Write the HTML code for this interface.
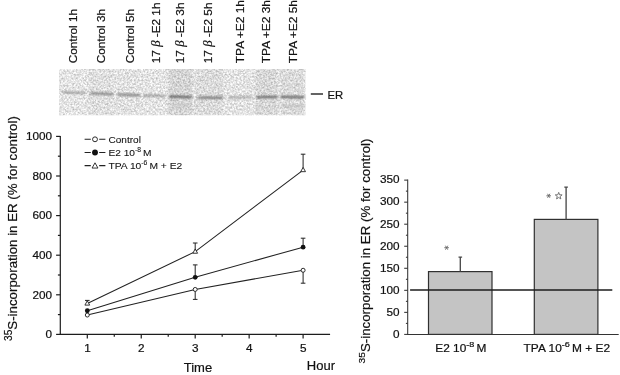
<!DOCTYPE html>
<html><head><meta charset="utf-8"><title>Figure</title>
<style>html,body{margin:0;padding:0;background:#fff;}body{width:620px;height:375px;overflow:hidden;font-family:"Liberation Sans",sans-serif;}svg{display:block;will-change:transform;}text{font-family:"Liberation Sans",sans-serif;fill:#111;stroke:#111;stroke-width:0.2px;}</style>
</head><body>
<svg width="620" height="375" viewBox="0 0 620 375">
<defs>
<filter id="noise" x="0" y="0" width="100%" height="100%" color-interpolation-filters="sRGB">
<feTurbulence type="fractalNoise" baseFrequency="0.55" numOctaves="2" seed="7" result="t"/>
<feColorMatrix in="t" type="matrix" values="0.48 0 0 0 0.655  0.48 0 0 0 0.655  0.48 0 0 0 0.655  0 0 0 0 1"/>
</filter>
<filter id="blur1" x="-10%" y="-100%" width="120%" height="300%"><feGaussianBlur stdDeviation="0.9 0.8"/></filter>
<filter id="blur2" x="-10%" y="-10%" width="120%" height="120%"><feGaussianBlur stdDeviation="1.2 0.6"/></filter>
</defs>
<rect x="0" y="0" width="620" height="375" fill="#fff"/>
<g id="gel">
<rect x="59" y="69" width="246.5" height="46.3" fill="#e4e4e4" filter="url(#noise)"/>
<g filter="url(#blur2)">
<rect x="88.5" y="69" width="25" height="46.3" fill="#000" fill-opacity="0.025"/>
<rect x="116.5" y="69" width="23" height="46.3" fill="#000" fill-opacity="0.01"/>
<rect x="168.5" y="69" width="24" height="46.3" fill="#000" fill-opacity="0.07"/>
<rect x="195.5" y="69" width="28" height="46.3" fill="#000" fill-opacity="0.04"/>
<rect x="226.5" y="69" width="26" height="46.3" fill="#000" fill-opacity="0.005"/>
<rect x="255.5" y="69" width="22" height="46.3" fill="#000" fill-opacity="0.06"/>
<rect x="280.5" y="69" width="23.5" height="46.3" fill="#000" fill-opacity="0.045"/>
</g>
<rect x="55" y="65" width="254.5" height="4" fill="#fff"/>
<rect x="55" y="115.3" width="254.5" height="4" fill="#fff"/>
<rect x="55" y="65" width="4" height="54.3" fill="#fff"/>
<rect x="305.5" y="65" width="4" height="54.3" fill="#fff"/>
<g filter="url(#blur1)" stroke-linecap="round">
<line x1="63" y1="92.2" x2="85" y2="93.0" stroke="#868686" stroke-width="1.7"/>
<line x1="91" y1="93.2" x2="112.5" y2="94.2" stroke="#787878" stroke-width="1.9"/>
<line x1="118" y1="94.4" x2="139.5" y2="95.2" stroke="#747474" stroke-width="2.0"/>
<line x1="144" y1="95.4" x2="165" y2="96.0" stroke="#808080" stroke-width="1.7"/>
<line x1="170" y1="96.5" x2="191" y2="97.2" stroke="#646464" stroke-width="2.3"/>
<line x1="198.5" y1="97.8" x2="222" y2="97.6" stroke="#6e6e6e" stroke-width="2.1"/>
<line x1="229" y1="97.5" x2="252" y2="97.2" stroke="#909090" stroke-width="1.6"/>
<line x1="257.5" y1="97.1" x2="277" y2="96.9" stroke="#666" stroke-width="2.2"/>
<line x1="281.5" y1="96.9" x2="303.5" y2="97.1" stroke="#626262" stroke-width="2.3"/>
<line x1="282" y1="105.8" x2="303" y2="106" stroke="#b4b4b4" stroke-width="1.6"/>
<line x1="171" y1="104.5" x2="190" y2="105" stroke="#c4c4c4" stroke-width="1.5"/>
</g>
</g>
<text transform="translate(77.1,63.2) rotate(-90) scale(1.07,1)" font-size="11" text-anchor="start">Control 1h</text>
<text transform="translate(105.39999999999999,63.2) rotate(-90) scale(1.07,1)" font-size="11" text-anchor="start">Control 3h</text>
<text transform="translate(133.6,63.2) rotate(-90) scale(1.07,1)" font-size="11" text-anchor="start">Control 5h</text>
<text transform="translate(160.4,63.2) rotate(-90) scale(1.07,1)" font-size="11" text-anchor="start">17 <tspan font-family="Liberation Serif, serif" font-style="italic" font-size="12">β</tspan> -E2 1h</text>
<text transform="translate(183.7,63.2) rotate(-90) scale(1.07,1)" font-size="11" text-anchor="start">17 <tspan font-family="Liberation Serif, serif" font-style="italic" font-size="12">β</tspan> -E2 3h</text>
<text transform="translate(212.1,63.2) rotate(-90) scale(1.07,1)" font-size="11" text-anchor="start">17 <tspan font-family="Liberation Serif, serif" font-style="italic" font-size="12">β</tspan> -E2 5h</text>
<text transform="translate(244.4,63.2) rotate(-90) scale(1.085,1)" font-size="11" text-anchor="start">TPA +E2 1h</text>
<text transform="translate(270.1,63.2) rotate(-90) scale(1.085,1)" font-size="11" text-anchor="start">TPA +E2 3h</text>
<text transform="translate(296.6,63.2) rotate(-90) scale(1.085,1)" font-size="11" text-anchor="start">TPA +E2 5h</text>
<line x1="310.8" y1="94.0" x2="323.0" y2="94.0" stroke="#222" stroke-width="1.4"/>
<text transform="translate(327.5,98.9) scale(1.03,1)" font-size="11" text-anchor="start" >ER</text>
<g id="left" stroke="#1c1c1c" stroke-width="1.2" fill="none">
<line x1="60.3" y1="135.89999999999998" x2="60.3" y2="334.9"/>
<line x1="59.8" y1="334.4" x2="330.075" y2="334.4"/>
<line x1="56.099999999999994" y1="334.40" x2="60.3" y2="334.40"/>
<line x1="57.9" y1="314.60" x2="60.3" y2="314.60"/>
<line x1="56.099999999999994" y1="294.80" x2="60.3" y2="294.80"/>
<line x1="57.9" y1="275.00" x2="60.3" y2="275.00"/>
<line x1="56.099999999999994" y1="255.20" x2="60.3" y2="255.20"/>
<line x1="57.9" y1="235.40" x2="60.3" y2="235.40"/>
<line x1="56.099999999999994" y1="215.60" x2="60.3" y2="215.60"/>
<line x1="57.9" y1="195.80" x2="60.3" y2="195.80"/>
<line x1="56.099999999999994" y1="176.00" x2="60.3" y2="176.00"/>
<line x1="57.9" y1="156.20" x2="60.3" y2="156.20"/>
<line x1="56.099999999999994" y1="136.40" x2="60.3" y2="136.40"/>
<line x1="87.30" y1="334.4" x2="87.30" y2="338.59999999999997"/>
<line x1="114.28" y1="334.4" x2="114.28" y2="336.79999999999995"/>
<line x1="141.25" y1="334.4" x2="141.25" y2="338.59999999999997"/>
<line x1="168.23" y1="334.4" x2="168.23" y2="336.79999999999995"/>
<line x1="195.20" y1="334.4" x2="195.20" y2="338.59999999999997"/>
<line x1="222.18" y1="334.4" x2="222.18" y2="336.79999999999995"/>
<line x1="249.15" y1="334.4" x2="249.15" y2="338.59999999999997"/>
<line x1="276.12" y1="334.4" x2="276.12" y2="336.79999999999995"/>
<line x1="303.10" y1="334.4" x2="303.10" y2="338.59999999999997"/>
</g>
<text transform="translate(52.0,338.2) scale(1.12,1)" font-size="10.5" text-anchor="end" >0</text>
<text transform="translate(52.0,298.59999999999997) scale(1.12,1)" font-size="10.5" text-anchor="end" >200</text>
<text transform="translate(52.0,259.0) scale(1.12,1)" font-size="10.5" text-anchor="end" >400</text>
<text transform="translate(52.0,219.39999999999998) scale(1.12,1)" font-size="10.5" text-anchor="end" >600</text>
<text transform="translate(52.0,179.79999999999998) scale(1.12,1)" font-size="10.5" text-anchor="end" >800</text>
<text transform="translate(52.0,140.2) scale(1.12,1)" font-size="10.5" text-anchor="end" >1000</text>
<text transform="translate(87.39999999999999,352.0) scale(1.12,1)" font-size="10.5" text-anchor="middle" >1</text>
<text transform="translate(141.35,352.0) scale(1.12,1)" font-size="10.5" text-anchor="middle" >2</text>
<text transform="translate(195.29999999999998,352.0) scale(1.12,1)" font-size="10.5" text-anchor="middle" >3</text>
<text transform="translate(249.25000000000003,352.0) scale(1.12,1)" font-size="10.5" text-anchor="middle" >4</text>
<text transform="translate(303.20000000000005,352.0) scale(1.12,1)" font-size="10.5" text-anchor="middle" >5</text>
<text transform="translate(183.7,371.5) scale(1.0,1)" font-size="13" text-anchor="start" >Time</text>
<text transform="translate(306.8,370.2) scale(1.0,1)" font-size="13" text-anchor="start" >Hour</text>
<polyline points="87.30,315.04 195.20,289.45 303.10,270.25" fill="none" stroke="#222" stroke-width="1.05"/>
<path d="M195.20 289.45V299.4M192.90 299.4H197.50" stroke="#222" stroke-width="1" fill="none"/>
<path d="M303.10 270.25V283.2M300.80 283.2H305.40" stroke="#222" stroke-width="1" fill="none"/>
<circle cx="87.30" cy="315.04" r="2.00" fill="#fff" stroke="#222" stroke-width="0.95"/>
<circle cx="195.20" cy="289.45" r="2.00" fill="#fff" stroke="#222" stroke-width="0.95"/>
<circle cx="303.10" cy="270.25" r="2.00" fill="#fff" stroke="#222" stroke-width="0.95"/>
<polyline points="87.30,310.74 195.20,277.28 303.10,247.14" fill="none" stroke="#222" stroke-width="1.05"/>
<path d="M195.20 277.28V264.9M192.90 264.9H197.50" stroke="#222" stroke-width="1" fill="none"/>
<path d="M303.10 247.14V238.2M300.80 238.2H305.40" stroke="#222" stroke-width="1" fill="none"/>
<circle cx="87.30" cy="310.74" r="2.40" fill="#111"/>
<circle cx="195.20" cy="277.28" r="2.40" fill="#111"/>
<circle cx="303.10" cy="247.14" r="2.40" fill="#111"/>
<polyline points="87.30,303.51 195.20,251.64 303.10,170.06" fill="none" stroke="#222" stroke-width="1.05"/>
<path d="M87.30 303.51V300.4M85.00 300.4H89.60" stroke="#222" stroke-width="1" fill="none"/>
<path d="M195.20 251.64V243.0M192.90 243.0H197.50" stroke="#222" stroke-width="1" fill="none"/>
<path d="M303.10 170.06V154.2M300.80 154.2H305.40" stroke="#222" stroke-width="1" fill="none"/>
<path d="M87.30 300.81L89.70 305.11H84.90Z" fill="#fff" stroke="#222" stroke-width="0.9" stroke-linejoin="miter"/>
<path d="M195.20 248.94L197.60 253.24H192.80Z" fill="#fff" stroke="#222" stroke-width="0.9" stroke-linejoin="miter"/>
<path d="M303.10 167.36L305.50 171.66H300.70Z" fill="#fff" stroke="#222" stroke-width="0.9" stroke-linejoin="miter"/>
<path d="M84.6 139.3H90.8M99.2 139.3H105.4" stroke="#222" stroke-width="1.1" fill="none"/>
<circle cx="95.00" cy="139.30" r="2.44" fill="#fff" stroke="#222" stroke-width="0.95"/>
<path d="M84.6 152.5H90.8M99.2 152.5H105.4" stroke="#222" stroke-width="1.1" fill="none"/>
<circle cx="95.00" cy="152.50" r="2.93" fill="#111"/>
<path d="M84.6 165.6H90.8M99.2 165.6H105.4" stroke="#222" stroke-width="1.1" fill="none"/>
<path d="M95.00 162.81L97.93 168.05H92.07Z" fill="#fff" stroke="#222" stroke-width="0.9" stroke-linejoin="miter"/>
<text transform="translate(108.4,142.7) scale(1.03,1)" font-size="9.8" text-anchor="start" style="stroke-width:0.08px">Control</text>
<text transform="translate(108.4,155.9) scale(1.04,1)" font-size="9.8" text-anchor="start" style="stroke-width:0.08px">E2 10<tspan font-size="6.5" dy="-3.6">-8</tspan><tspan dy="3.6" dx="-0.8"> M</tspan></text>
<text transform="translate(108.4,168.9) scale(1.05,1)" font-size="9.8" text-anchor="start" style="stroke-width:0.08px">TPA 10<tspan font-size="6.5" dy="-3.6">-6</tspan><tspan dy="3.6" dx="-0.8"> M + E2</tspan></text>
<text transform="translate(17.3,341.0) rotate(-90) scale(0.986,1)" font-size="13.5"><tspan font-size="10.3" dy="-5.3">35</tspan><tspan dy="5.3">S-incorporation in ER (% for control)</tspan></text>
<rect x="428.5" y="271.6" width="63.5" height="62.799999999999955" fill="#c4c4c4" stroke="#303030" stroke-width="1.2"/>
<path d="M460.3 271.6V257.1M458.5 257.1H462.1" stroke="#4a4a4a" stroke-width="1.35" fill="none"/>
<rect x="534.3" y="219.4" width="63.60000000000002" height="114.99999999999997" fill="#c4c4c4" stroke="#303030" stroke-width="1.2"/>
<path d="M566.1 219.4V187.1M564.3000000000001 187.1H567.9" stroke="#4a4a4a" stroke-width="1.35" fill="none"/>
<g stroke="#333" stroke-width="1.05" fill="none">
<line x1="407.7" y1="179.61999999999998" x2="407.7" y2="334.9"/>
<line x1="407.2" y1="334.4" x2="618.7" y2="334.4"/>
<line x1="404.2" y1="334.40" x2="407.7" y2="334.40"/>
<line x1="405.9" y1="323.38" x2="407.7" y2="323.38"/>
<line x1="404.2" y1="312.36" x2="407.7" y2="312.36"/>
<line x1="405.9" y1="301.34" x2="407.7" y2="301.34"/>
<line x1="404.2" y1="290.32" x2="407.7" y2="290.32"/>
<line x1="405.9" y1="279.30" x2="407.7" y2="279.30"/>
<line x1="404.2" y1="268.28" x2="407.7" y2="268.28"/>
<line x1="405.9" y1="257.26" x2="407.7" y2="257.26"/>
<line x1="404.2" y1="246.24" x2="407.7" y2="246.24"/>
<line x1="405.9" y1="235.22" x2="407.7" y2="235.22"/>
<line x1="404.2" y1="224.20" x2="407.7" y2="224.20"/>
<line x1="405.9" y1="213.18" x2="407.7" y2="213.18"/>
<line x1="404.2" y1="202.16" x2="407.7" y2="202.16"/>
<line x1="405.9" y1="191.14" x2="407.7" y2="191.14"/>
<line x1="404.2" y1="180.12" x2="407.7" y2="180.12"/>
<line x1="410.1" y1="290.0" x2="612.3" y2="290.0" stroke="#1c1c1c" stroke-width="1.35"/>
</g>
<text transform="translate(399.6,337.7) scale(1.12,1)" font-size="10.5" text-anchor="end" >0</text>
<text transform="translate(399.6,315.65999999999997) scale(1.12,1)" font-size="10.5" text-anchor="end" >50</text>
<text transform="translate(399.6,293.62) scale(1.12,1)" font-size="10.5" text-anchor="end" >100</text>
<text transform="translate(399.6,271.58) scale(1.12,1)" font-size="10.5" text-anchor="end" >150</text>
<text transform="translate(399.6,249.54) scale(1.12,1)" font-size="10.5" text-anchor="end" >200</text>
<text transform="translate(399.6,227.5) scale(1.12,1)" font-size="10.5" text-anchor="end" >250</text>
<text transform="translate(399.6,205.46) scale(1.12,1)" font-size="10.5" text-anchor="end" >300</text>
<text transform="translate(399.6,183.42) scale(1.12,1)" font-size="10.5" text-anchor="end" >350</text>
<text transform="translate(435.3,351.8) scale(1.13,1)" font-size="10.5" text-anchor="start" >E2 10<tspan font-size="8" dy="-4.4">-8</tspan><tspan dy="4.4" dx="-1.0"> M</tspan></text>
<text transform="translate(523.6,351.8) scale(1.135,1)" font-size="10.5" text-anchor="start" >TPA 10<tspan font-size="8" dy="-4.4">-6</tspan><tspan dy="4.4" dx="-1.0"> M + E2</tspan></text>
<path d="M448.90 247.70L444.30 247.70M447.75 245.71L445.45 249.69M445.45 245.71L447.75 249.69" stroke="#666" stroke-width="0.9" fill="none"/>
<path d="M551.00 195.80L546.40 195.80M549.85 193.81L547.55 197.79M547.55 193.81L549.85 197.79" stroke="#666" stroke-width="0.9" fill="none"/>
<polygon points="558.70,192.40 557.81,194.78 555.28,194.89 557.26,196.47 556.58,198.91 558.70,197.51 560.82,198.91 560.14,196.47 562.12,194.89 559.59,194.78" fill="#fff" stroke="#666" stroke-width="0.9"/>
<text transform="translate(370.0,363.5) rotate(-90) scale(1.024,0.96)" font-size="13"><tspan font-size="10" dy="-5.2">35</tspan><tspan dy="5.2">S-incorporation in ER (% for control)</tspan></text>
</svg>
</body></html>
